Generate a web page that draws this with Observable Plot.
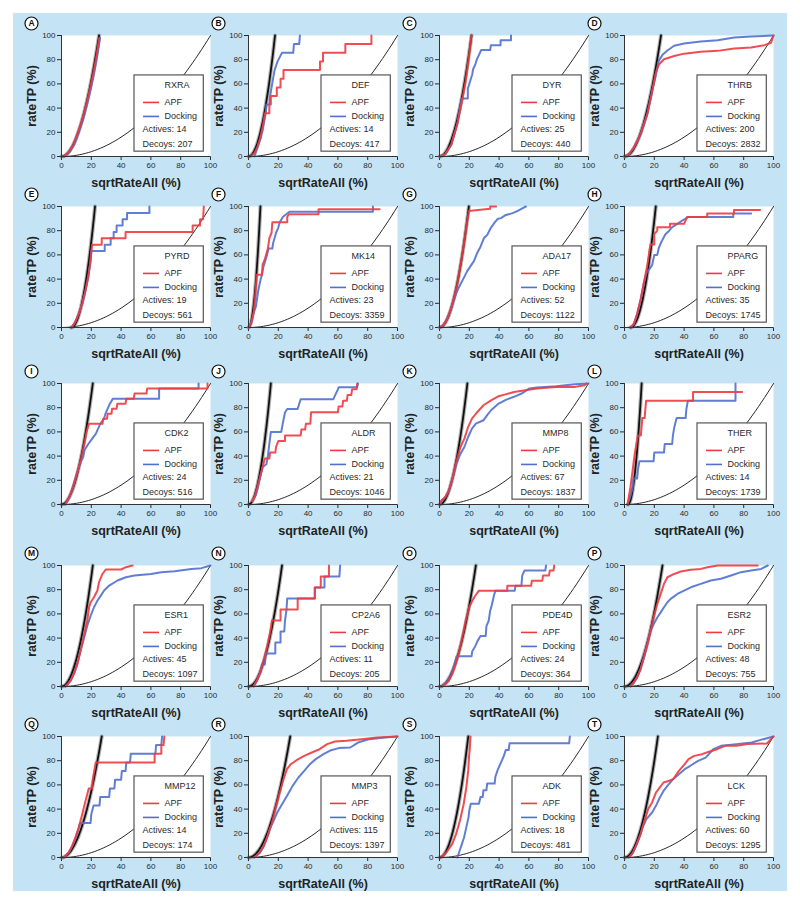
<!DOCTYPE html>
<html><head><meta charset="utf-8">
<script src="https://cdn.jsdelivr.net/npm/d3@7"></script>
<script src="https://cdn.jsdelivr.net/npm/@observablehq/plot@0.6"></script>
<style>
body{margin:0;background:#fff;}
#page{position:relative;width:800px;height:904px;background:#fff;overflow:hidden;font-family:"Liberation Sans",Arial,sans-serif;}
#bg{position:absolute;left:13px;top:13px;width:774px;height:878px;background:#c4e4f6;}
.panel{position:absolute;}
</style></head><body><div id="page"><div id="bg"></div></div>
<script>
const panelLetters = ["A","B","C","D","E","F","G","H","I","J","K","L","M","N","O","P","Q","R","S","T"];
const targets = ["RXRA","DEF","DYR","THRB","PYRD","MK14","ADA17","PPARG","CDK2","ALDR","MMP8","THER","ESR1","CP2A6","PDE4D","ESR2","MMP12","MMP3","ADK","LCK"];
const actives = [14,14,25,200,19,23,52,35,24,21,67,14,45,11,24,48,14,115,18,60];
const decoys = [207,417,440,2832,561,3359,1122,1745,516,1046,1837,1739,1097,205,364,755,174,1397,481,1295];
// thick (ideal) curve: start and top positions
const idealStart = [0,0,0,0,6.5,0,0,4,0,0,0,2.3,0,0,0,0,0,0,0,0];
const idealTop = [25.2,17.8,21.5,24.5,22.5,8,19.7,21,21,15,18.7,11.5,21,22.5,24.4,25.5,27,28,19.3,22.4];
const tickValues = [0,20,40,60,80,100];
const seriesNames = ["APF","Docking"];

const apfCurves = [
 [[1.5,0],[5,4],[8,10],[11,20],[14,31],[17,45],[19.5,58],[21.5,70],[23,80],[24.3,90],[25.3,98]],
 [[1.5,0],[4,3],[6,8],[8,16],[10,28],[11,35.7],[14,35.7],[14,42.9],[15,42.9],[15,50],[19,50],[19,57.1],[21.5,57.1],[21.5,64.3],[23.5,64.3],[23.5,71.4],[48,71.4],[48,78.6],[50,78.6],[50,85.7],[65,85.7],[65,92.9],[82.5,92.9],[82.5,100]],
 [[0,0],[4,2],[8,10],[12,27],[15,45],[17.5,62],[19.5,80],[21.4,100]],
 [[0,0],[3,2],[6.3,7.4],[10.8,18.5],[15.3,35],[19.1,57],[20.9,69],[23.1,76],[26.5,80.4],[33.3,83],[40,85],[51.2,86.5],[62.5,87.3],[73.7,89.3],[85,90],[94,92],[98.4,94],[100,100]],
 [[6.7,0],[9,4],[11.5,11],[14,20],[16,30],[18,42],[19.5,55],[20.5,68.4],[27,68.4],[27,73.7],[43,73.7],[43,78.9],[88,78.9],[88,84.2],[93,84.2],[93,89.5],[95,89.5],[95.5,100]],
 [[0,0],[2,4],[3.5,13],[4.5,26],[5.5,43.5],[9,43.5],[9.5,52.2],[11,56.5],[12,60.9],[13,65.2],[14,73.9],[15.5,78.3],[16,87],[26,87],[26,91.3],[27,93.5],[47,93.5],[47,97.8],[88,97.8]],
 [[0,0],[2.7,2.2],[5,6.8],[7.2,13.7],[9.5,23.3],[11.8,35.6],[14,50.7],[16.3,68.5],[18.6,87.7],[19.7,96.2],[34,98.1],[34,100],[38,100]],
 [[4,0],[6.3,3],[8.5,11.4],[10.8,22.9],[13,37],[15.3,51.4],[17,65.7],[17.5,68.6],[20,68.6],[20,77.1],[22,80],[22,82.9],[30.5,82.9],[30.5,85.7],[40,85.7],[41,88.6],[42,91.4],[55.5,91.4],[55.5,94.3],[73.5,94.3],[73.5,97.1],[91,97.1]],
 [[2.6,0],[5.2,6],[7.7,14.4],[10.3,25.4],[12.9,36.5],[15.5,51.7],[16.8,60],[18.5,66.7],[27.5,66.7],[28,70.8],[30.5,70.8],[31,75],[33.5,75],[34,79.2],[37,79.2],[37.5,83.3],[43,83.3],[43.5,87.5],[48.5,87.5],[49,91.7],[57,91.7],[57.5,95.8],[98,95.8],[98,100]],
 [[2.5,3],[4,6],[5.5,12],[8,24],[10,33.3],[11,38.1],[14,38.1],[14.5,42.9],[18,42.9],[18.5,47.6],[20,52.4],[24.5,52.4],[24.5,57.1],[35,57.1],[35.5,61.9],[38,61.9],[38.5,66.7],[41.5,66.7],[42,76.2],[60,76.2],[60.5,81],[63,81],[63.5,85.7],[66,85.7],[66.5,90.5],[69,90.5],[69.5,95.2],[72.5,95.2],[73,100]],
 [[0.5,0],[1.3,3.3],[3.8,6],[6.4,11.6],[9,22.7],[11.5,36.5],[14.1,47.5],[16.7,54.4],[19.2,64],[21.8,71],[24.4,75],[29.5,82],[34.6,86],[39.7,89.5],[44.9,91.2],[50,93],[57.7,94.5],[65.4,95.9],[78.2,97.2],[91,97.2],[97.4,98.6],[98.7,100]],
 [[2,0],[3,7.1],[4,14.3],[4.7,21.4],[5.5,28.6],[6.2,35.7],[7,42.9],[8,50],[9,57.1],[11,57.1],[11.5,64.3],[12,71.4],[13.5,71.4],[14,78.6],[14.5,85.7],[46,85.7],[46,92.9],[79,92.9]],
 [[2.7,0],[6.1,4.7],[8.3,10.2],[10.6,18.5],[12.8,29.6],[15.1,42],[17.3,54.4],[18.5,65.5],[19.6,69.6],[21.8,73.8],[24.1,79.3],[25.2,86.2],[27.5,93],[29.7,96.7],[40,96.7],[43.2,98.6],[47.7,100]],
 [[3.4,0],[5.6,4.7],[7.9,11.6],[10.1,21.3],[12.4,32.3],[14.6,44.8],[15.7,54.5],[21.5,54.5],[21.5,63.6],[33,63.6],[33,72.7],[44.5,72.7],[44.5,81.8],[48.5,81.8],[48.5,90.9],[54,90.9],[54,100]],
 [[1.8,0],[4,2],[6.3,4.7],[8.6,10.2],[10.8,18.5],[13.1,28.2],[15.3,40.6],[17.6,54.4],[19.9,65.5],[22,70.8],[24,75],[26.5,79.2],[45.5,79.2],[45.5,83.3],[61.5,83.3],[62,87.5],[69,87.5],[69.5,91.7],[73.5,91.7],[74,95.8],[76.5,95.8],[77,100]],
 [[4,0],[6.3,3.3],[8.5,7.5],[10.8,14.4],[13,24],[15.3,35],[17.5,46],[19.8,58.6],[22,68.2],[24.3,76.5],[26.5,84.8],[28.8,90.3],[33.3,93],[37.8,95],[44.5,96.4],[51.2,97.2],[55.7,98.6],[62.5,100],[89.4,100]],
 [[1.6,0],[4.9,4.1],[7.2,9.6],[9.4,16.5],[11.6,24.8],[13.9,35.8],[16.1,46.8],[18.3,57.1],[20.5,57.1],[21,64.3],[22,71.4],[23,78.6],[62.5,78.6],[62.5,85.7],[67,85.7],[67,92.9],[68.5,92.9],[69,100]],
 [[3.9,0],[7.7,4.1],[10.3,9.6],[12.9,17.9],[15.5,27.5],[18,40],[20.6,52.3],[23.2,63.4],[25.8,73],[28.4,77.1],[32.2,80.4],[37.4,84],[42.5,86.8],[47.7,89.5],[52.8,93.7],[58,95.9],[65.7,96.4],[76,97.8],[86.3,99.2],[100,100]],
 [[0.8,0],[4.6,4.1],[8.5,11],[11.1,19.3],[13.7,30.3],[16.2,44],[18,57.9],[19.3,72],[19.8,83.3],[20.3,88.9],[20.8,100]],
 [[3.1,0],[5.7,4.1],[8.2,11],[10.8,19.3],[13.4,30.3],[15.9,40],[18.5,45.5],[21.1,53.7],[23.7,57.9],[26.2,62],[30.1,63.4],[32.6,64.7],[36.5,71.6],[40.4,77.1],[43,81.3],[46.8,84],[52,85.4],[57.1,87.6],[62.2,89.5],[67.4,92.3],[75,92.3],[82.8,93.7],[95.6,94.2],[100,100]]
];

const dockingCurves = [
 [[2,0],[5.6,4],[8.6,10],[11.6,20],[14.6,31],[17.6,45],[20.1,58],[22.1,70],[23.6,80],[24.9,90],[25.9,98]],
 [[4,0],[6,7.1],[8,14.3],[9.5,21.4],[10.5,28.6],[11.5,35.7],[12,42.9],[14,42.9],[14.5,50],[15.5,57.1],[16.5,64.3],[17.5,71.4],[19.5,78.6],[22.5,85.7],[30,85.7],[30.5,92.9],[34,92.9],[34.5,100]],
 [[0,0],[4,2],[8,10],[12,27],[14.5,46],[15,48],[19,48],[19,56],[20,60],[21,64],[22,68],[22.5,72],[24,76],[25,80],[26.5,84],[28,88],[34,88],[34.5,92],[41,92],[41,96],[48,96],[48,100]],
 [[0,0],[3,2],[6.3,7.4],[10.8,18.5],[15.3,35],[19.1,57],[21,67],[23,79],[25.5,84],[28.8,87.6],[33.3,91.5],[40,93.4],[51.2,95],[62.5,96],[73.7,98.3],[85,99.2],[100,100]],
 [[6.7,0],[9,4],[11.5,11],[14,20],[16,30],[18,42],[19.5,55],[20,63.2],[29,63.2],[29,68.4],[33,68.4],[33,73.7],[35,73.7],[35,78.9],[37,78.9],[37,84.2],[41,84.2],[41,89.5],[44,89.5],[44,94.7],[59,94.7],[59,100]],
 [[0,0],[2,5],[3.5,12],[5,17.4],[5.5,21.7],[6.5,30.4],[8,39],[9,43.5],[10,50],[12,58],[13.5,65.2],[16,65.2],[16.5,69.6],[17.5,73.9],[18.5,78.3],[20,82.6],[21,87],[23,91.3],[27.5,95.7],[83.5,95.7],[83.5,100]],
 [[0,0],[2.7,2],[5,6.8],[7.2,13.7],[9.5,22],[11.8,30],[14,35.6],[16.3,41],[18.6,46.6],[20.8,50.7],[23.1,54.8],[25.3,61.6],[27.6,67],[29.9,74],[32.1,76.7],[34.4,82.2],[36.7,86.3],[38.9,89.6],[41.2,90.4],[44.6,93],[49.1,94.5],[52.5,96.4],[55.9,98.6],[58,100]],
 [[4,0],[6.3,3],[8.5,11.4],[10.8,22.9],[13,37],[15,45.7],[17,48.6],[18.5,51.4],[19.5,57.1],[20,60],[22,60],[23,65.7],[25,71.4],[27.5,77.1],[30,80],[32,82.9],[35.5,85.7],[39,88.6],[43,91.4],[73,91.4],[73,94.3],[85,94.3]],
 [[2.6,0],[5.2,6],[7.7,14.4],[10.3,25.4],[12.9,35],[14.5,39],[15.5,45],[18,50],[20.5,54.2],[23,58.3],[24.5,62.5],[26,66.7],[28.5,70.8],[29.5,75],[31,79.2],[32.5,83.3],[34.5,87.5],[65.5,87.5],[65.5,95.8],[92,95.8],[92,100]],
 [[2.5,3],[5,8],[7.5,21],[9.5,31],[12,33.3],[13,40],[14,50],[15,60],[22,60],[23,67],[24.5,76],[26,79],[33,79],[34,83],[35,87],[57,87],[58,90],[60,95],[60.5,97],[73,97],[73.5,100]],
 [[0.5,0],[1.3,3.3],[3.8,6],[6.4,11.6],[9,22.7],[11.5,34],[14.1,42],[16.7,47.5],[19.2,55.8],[21.8,62.7],[24.4,66.9],[29.5,69.6],[32,73.8],[34.6,77.9],[39.7,83.4],[44.9,86.7],[50,89],[55.1,91.7],[60.3,95.9],[65.4,96.7],[78.2,97.8],[91,99.4],[100,100]],
 [[2,0],[4,7.1],[5.5,14.3],[6,21.4],[8.5,21.4],[9,28.6],[10,35.7],[19.5,35.7],[20,42.9],[26.5,42.9],[27,50],[32,50],[32.5,57.1],[33.5,64.3],[35,71.4],[41,71.4],[41.5,78.6],[42.5,85.7],[74.5,85.7],[74.5,100]],
 [[2.7,0],[6.1,4.7],[8.3,10.2],[10.6,18.5],[12.8,29.6],[15.1,40],[17.3,50.3],[19.6,58.6],[21.8,65.5],[24.1,71],[26.4,75.1],[28.6,79.3],[32,83.4],[37.6,87.6],[43.2,90.3],[48.9,91.7],[60.1,93],[66.9,94.5],[75.9,95.3],[87.2,97.2],[93.9,97.8],[100,100]],
 [[3.4,0],[5.6,4.7],[7.9,11.6],[9,18.2],[11,18.2],[11.5,27.3],[18,27.3],[18,36.4],[21.5,36.4],[21.5,45.5],[24,45.5],[24.5,54.5],[25.5,63.6],[26,72.7],[44.5,72.7],[44.5,81.8],[51,81.8],[51,90.9],[61,90.9],[61.5,100]],
 [[1.8,0],[5,4.2],[7.4,8.3],[9.7,16.7],[11.5,25],[21.5,25],[22,29.2],[24,33.3],[25.5,37.5],[27.5,41.7],[31,41.7],[31.5,50],[33,54.2],[34,62.5],[35,66.7],[36.5,75],[37.5,79.2],[50.5,79.2],[51,83.3],[55,83.3],[55.5,91.7],[57,95.8],[71,95.8],[71.5,100]],
 [[4,0],[6.3,3.3],[8.5,7.5],[10.8,14.4],[13,24],[15.3,35],[17.5,46],[19.8,52],[22,57],[24.3,61.3],[26.5,65.5],[28.8,69.6],[31,72.4],[35.5,76.5],[40,79.3],[44.5,82],[51.2,84.8],[57.9,87.6],[64.7,89],[71.5,91.7],[78.2,94.5],[85,95.9],[91.7,97.2],[96.2,100]],
 [[1.6,0],[4.9,4.1],[7.2,9.6],[9.4,16.5],[11.6,24.8],[12.5,28.6],[19.5,28.6],[20,35.7],[21.5,42.9],[25.5,42.9],[26,50],[32,50],[32.5,57.1],[35.5,57.1],[36,64.3],[40,64.3],[40.5,71.4],[43,71.4],[43.5,78.6],[46,78.6],[46.5,85.7],[63,85.7],[63.5,92.9],[67,92.9],[67.5,100]],
 [[3.9,0],[7.7,4.1],[10.3,9.6],[12.9,17.9],[14.2,23.4],[16.8,30.3],[19.3,37.2],[21.9,42.7],[24.5,48.2],[27.1,53.7],[29.6,59.2],[33.5,66.1],[37.4,71.6],[41.2,77.1],[45.1,81.3],[50.3,85.4],[55.4,88.7],[60.6,90.4],[68.3,90.9],[73.5,95],[81.2,97.8],[91.5,99.2],[100,100]],
 [[12,0],[13.5,5.6],[15,11.1],[16.5,16.7],[17.5,22.2],[18.5,27.8],[19.5,33.3],[20,38.9],[21,44.4],[26.5,44.4],[27.5,50],[29,50],[29.5,55.6],[31.5,55.6],[32,61.1],[37,61.1],[37.5,66.7],[39,72.2],[41,77.8],[43,83.3],[44.5,88.9],[46.5,88.9],[47,94.4],[87,94.4],[87.5,100]],
 [[3.1,0],[5.7,4.1],[8.2,11],[10.8,19.3],[12.1,24.8],[14.7,31.7],[18.5,37.2],[21.1,42.7],[23.7,49.6],[26.2,55],[28.8,59.2],[32.6,64.7],[36.5,68.9],[40.4,73],[44.2,75.8],[49.4,79.9],[54.5,82.6],[59.6,89.5],[64.8,92.3],[75,93.7],[85.3,95],[93.1,97.8],[100,100]]
];

// ---- layout ----
const colX = [61, 248, 439, 624];
const rowY = [35, 206, 383, 565, 736];
const PW = 149, PH = 121, ML = 46, MR = 14, MT = 22, MB = 36;
const RED = "#ee3a40", BLUE = "#4f70cf";
const FONT = "'Liberation Sans', Arial, Helvetica, sans-serif";
const kx = 100 / PW; // data units per px (x)

function panel(i) {
  const xs = idealStart[i], xt = idealTop[i];
  const ideal = d3.range(0, 41).map(k => { const x = xs + (xt - xs) * k / 40; return {x, y: 100 * ((x - xs) / (xt - xs)) ** 2}; });
  const random = d3.range(0, 101, 2).map(x => ({x, y: x * x / 100}));
  const apf = apfCurves[i].map(([x, y]) => ({x, y}));
  const dock = dockingCurves[i].map(([x, y]) => ({x, y}));
  const LX1 = 49, LX2 = 95.5, LY1 = 4, LY2 = 67;
  const lineLen = 16 * kx;
  const legendText = (txt, dx, dy) => Plot.text([txt], {x: () => LX1, y: () => LY2, dx, dy, text: d => d,
    textAnchor: "start", lineAnchor: "middle", fontSize: 9, fill: "#2a2a2a"});
  const svg = Plot.plot({
    width: ML + PW + MR, height: MT + PH + MB,
    marginLeft: ML, marginRight: MR, marginTop: MT, marginBottom: MB,
    style: {background: "transparent", fontFamily: FONT, fontSize: "8px", color: "#2a2a2a", overflow: "visible"},
    x: {domain: [0, 100], ticks: tickValues, tickSize: 4, tickPadding: 2, label: null},
    y: {domain: [0, 100], ticks: tickValues, tickSize: 4, tickPadding: 2, label: null},
    marks: [
      Plot.frame({fill: "white", stroke: "none"}),
      Plot.line(random, {x: "x", y: "y", stroke: "#111", strokeWidth: 0.9}),
      Plot.line(ideal, {x: "x", y: "y", stroke: "#777", strokeWidth: 4, strokeOpacity: 0.55}),
      Plot.line(ideal, {x: "x", y: "y", stroke: "#111", strokeWidth: 1.8}),
      Plot.line(dock, {x: "x", y: "y", stroke: BLUE, strokeWidth: 2, strokeOpacity: 0.9}),
      Plot.line(apf, {x: "x", y: "y", stroke: RED, strokeWidth: 2, strokeOpacity: 0.9}),
      Plot.ruleX([0], {stroke: "#333", strokeWidth: 1}),
      Plot.ruleY([0], {stroke: "#333", strokeWidth: 1}),
      Plot.rect([0], {x1: () => LX1, x2: () => LX2, y1: () => LY1, y2: () => LY2, fill: "white", stroke: "#555", strokeWidth: 1.2}),
      legendText(targets[i], 30, 10),
      Plot.ruleY([0], {y: () => LY2, x1: () => LX1, x2: () => LX1 + lineLen, dx: 9, dy: 27, stroke: RED, strokeWidth: 1.6}),
      legendText(seriesNames[0], 30, 27),
      Plot.ruleY([0], {y: () => LY2, x1: () => LX1, x2: () => LX1 + lineLen, dx: 9, dy: 41, stroke: BLUE, strokeWidth: 1.6}),
      legendText(seriesNames[1], 30, 41),
      legendText("Actives: " + actives[i], 8, 54),
      legendText("Decoys: " + decoys[i], 8, 69),
      Plot.text(["sqrtRateAll (%)"], {frameAnchor: "bottom", dy: 26, text: d => d, textAnchor: "middle", lineAnchor: "middle", fontSize: 12.5, fontWeight: "bold", fill: "#222"}),
      Plot.text(["rateTP (%)"], {frameAnchor: "left", dx: -30, rotate: -90, text: d => d, textAnchor: "middle", lineAnchor: "middle", fontSize: 12.5, fontWeight: "bold", fill: "#222"}),
      Plot.dot([0], {frameAnchor: "top-left", dx: -30, dy: -12, r: 6.5, fill: "white", stroke: "#111", strokeWidth: 1.2}),
      Plot.text([panelLetters[i]], {frameAnchor: "top-left", dx: -30, dy: -12, text: d => d, textAnchor: "middle", lineAnchor: "middle", fontSize: 8.5, fontWeight: "bold", fill: "#111"})
    ]
  });
  svg.classList.add("panel");
  svg.style.left = (colX[i % 4] - ML) + "px";
  svg.style.top = (rowY[Math.floor(i / 4)] - MT) + "px";
  svg.style.position = "absolute";
  return svg;
}

const page = document.getElementById("page");
for (let i = 0; i < 20; i++) page.appendChild(panel(i));
</script></body></html>
